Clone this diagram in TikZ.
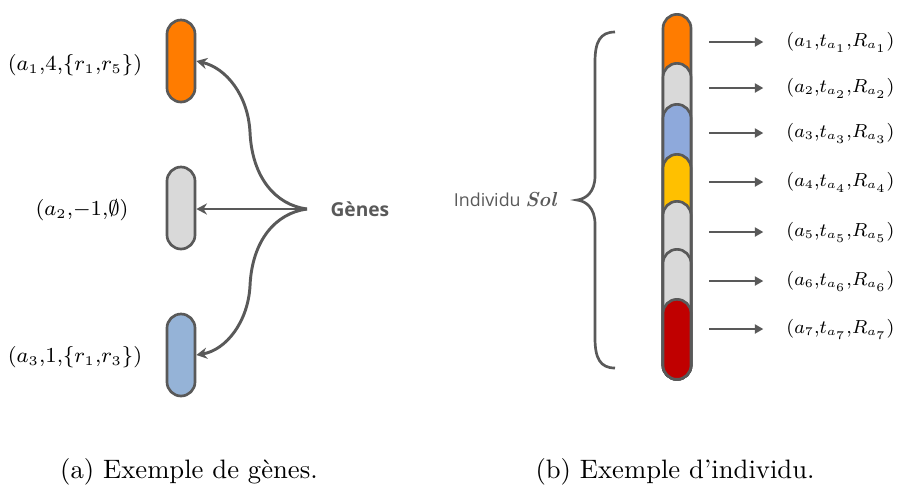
\documentclass[tikz,border=0pt]{standalone}
\usepackage{fontspec}
\usepackage{graphicx}
\newfontfamily\uisans{Open Sans}
\usetikzlibrary{arrows.meta,calc}
% compact scripts for the tuple labels
\DeclareMathSizes{8.5}{8.5}{5.5}{4}
\definecolor{lineg}{HTML}{595959}
\definecolor{geneorange}{HTML}{FF7C00}
\definecolor{genegray}{HTML}{D9D9D9}
\definecolor{geneblueA}{HTML}{95B3D7}
\definecolor{geneblueB}{HTML}{8EA9DB}
\definecolor{geneyellow}{HTML}{FFC000}
\definecolor{genered}{HTML}{C00000}
\begin{document}
\begin{tikzpicture}[x=0.375pt,y=-0.375pt,
  outl/.style={draw=lineg, line width=1pt},
  gene/.style={outl, rounded corners=5.25pt, minimum width=10.5pt,
    minimum height=30.75pt, inner sep=0pt},
  seg/.style={outl, rounded corners=5.25pt, minimum width=10.5pt,
    inner sep=0pt, anchor=north},
  link/.style={draw=lineg, line width=1.1pt, -{Stealth[length=4pt,width=4.2pt]}},
  arr/.style={draw=lineg, line width=0.9pt, -{Triangle[length=3.2pt,width=3.4pt]}},
  lmath/.style={font=\fontsize{7.6}{9}\selectfont, inner sep=0pt},
  rmath/.style={font=\fontsize{8.5}{10}\selectfont, inner sep=0pt, anchor=east},
  caption/.style={font=\fontsize{10}{12}\selectfont, anchor=base, inner sep=0pt},
  brace/.style={draw=lineg, line width=1pt}
]
\useasboundingbox (0,0) rectangle (897,485);

% ---------- (a) genes ----------
\node[gene, fill=geneorange] (g1) at (181,61) {};
\node[gene, fill=genegray]   (g2) at (181,208) {};
\node[gene, fill=geneblueA]  (g3) at (181,355) {};

\node[lmath] (l1) at (75,65)  {$(a_1{,}4{,}\{r_1{,}r_5\})$};
\node[lmath] (l2) at (82,210) {$(a_2{,}{-1}{,}\emptyset)$};
\node[lmath] (l3) at (75,357) {$(a_3{,}1{,}\{r_1{,}r_3\})$};

\coordinate (hub) at (307,209);
\node[font=\uisans\bfseries\fontsize{7.2}{9}\selectfont, text=lineg,
      anchor=west, inner sep=0pt] (genes) at (330,209) {Gènes};

\draw[link] (hub) .. controls (276,205) and (252,178) .. (250,132)
                  .. controls (248,95) and (226,68) .. (g1.east);
\draw[link] (hub) -- (g2.east |- hub);
\draw[link] (hub) .. controls (276,213) and (252,240) .. (250,286)
                  .. controls (248,322) and (226,350) .. (g3.east);

% ---------- (b) individual ----------
\node[seg, fill=geneorange, minimum height=136.875pt] (s1) at (677,13) {};
\node[seg, fill=genegray,   minimum height=118.5pt]   (s2) at (677,62) {};
\node[seg, fill=geneblueB,  minimum height=103.125pt] (s3) at (677,103) {};
\node[seg, fill=geneyellow, minimum height=84.375pt]  (s4) at (677,153) {};
\node[seg, fill=genegray,   minimum height=66.75pt]   (s5) at (677,200) {};
\node[seg, fill=genegray,   minimum height=48.75pt]   (s6) at (677,248) {};
\node[seg, fill=genered,    minimum height=30pt]      (s7) at (677,298) {};

\foreach \i/\y in {1/42,2/88,3/133,4/182,5/232,6/281,7/329}{
  \node[rmath] (r\i) at (895,\y)
    {\scalebox{0.885}{$(a_{\i}{,}t_{a_{\i}}{,}R_{a_{\i}})$}};
  \draw[arr] ($(s1.east |- r\i.east)+(17,0)$) -- ($(s1.east |- r\i.east)+(71,0)$);
}

% curly brace spanning the chromosome
\coordinate (btop) at (615,32);
\coordinate (btip) at (577,200);
\coordinate (bbot) at (615,368);
\draw[brace] (btop) .. controls (600,32) and (595,42) .. (595,62)
  -- (595,176) .. controls (595,192) and (586,199) .. (btip)
  .. controls (586,201) and (595,208) .. (595,224)
  -- (595,338) .. controls (595,358) and (600,368) .. (bbot);

\node[anchor=east, inner sep=0pt, text=lineg] (ind) at ($(btip)+(-20,0)$)
  {\uisans\fontsize{6.7}{9}\selectfont Individu {\rmfamily\bfseries\itshape\fontsize{7.6}{9}\selectfont Sol}};

% ---------- captions ----------
\node[caption] (capa) at (189,478) {(a) Exemple de gènes.};
\node[caption] (capb) at (675,478) {(b) Exemple d'individu.};
\end{tikzpicture}
\end{document}
